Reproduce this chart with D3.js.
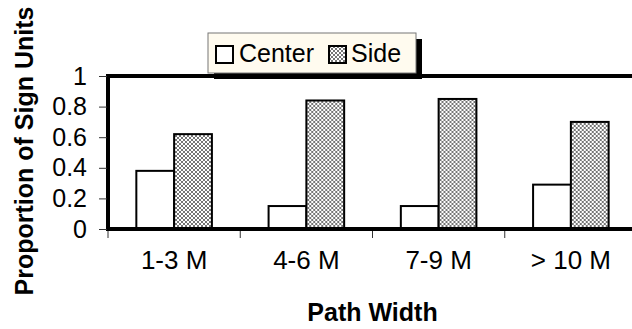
<!DOCTYPE html>
<html>
<head>
<meta charset="utf-8">
<script src="https://cdn.jsdelivr.net/npm/d3@7"></script>
<style>
  html, body { margin: 0; padding: 0; background: #fff; }
  svg { display: block; font-family: Arial, "Liberation Sans", sans-serif; }
</style>
</head>
<body>
<svg id="chart" width="632" height="329"></svg>
<script>
// Proportion of sign units by path width
const categories = ["1-3 M", "4-6 M", "7-9 M", "> 10 M"];
const seriesNames = ["Center", "Side"];
const centerValues = [0.38, 0.15, 0.15, 0.29];
const sideValues = [0.62, 0.84, 0.85, 0.70];
const yTicks = [0, 0.2, 0.4, 0.6, 0.8, 1];
const yTickLabels = ["0", "0.2", "0.4", "0.6", "0.8", "1"];

const svg = d3.select("#chart");
const plot = { left: 108, right: 637, top: 76, bottom: 229 };
const FONT = "Arial, 'Liberation Sans', sans-serif";

const defs = svg.append("defs");
const pat = defs.append("pattern")
  .attr("id", "hatch")
  .attr("patternUnits", "userSpaceOnUse")
  .attr("width", 4).attr("height", 4);
pat.append("rect").attr("width", 4).attr("height", 4).attr("fill", "#fff");
pat.append("path")
  .attr("d", "M0,0 L4,4 M4,0 L0,4")
  .attr("stroke", "#666").attr("stroke-width", 0.9);

const fills = { Center: "#fff", Side: "url(#hatch)" };

const x = d3.scaleBand().domain(categories).range([plot.left, plot.right]).paddingInner(0).paddingOuter(0);
const xs = d3.scaleBand().domain(seriesNames).range([0, x.bandwidth()]).paddingInner(0).paddingOuter(0.75);
const y = d3.scaleLinear().domain([0, 1]).range([plot.bottom, plot.top]);

const rows = categories.map((c, i) => ({ cat: c, Center: centerValues[i], Side: sideValues[i] }));

// bars
const groups = svg.append("g").selectAll("g").data(rows).join("g")
  .attr("transform", d => `translate(${x(d.cat)},0)`);
groups.selectAll("rect").data(d => seriesNames.map(s => ({ s, v: d[s] }))).join("rect")
  .attr("x", d => xs(d.s))
  .attr("width", xs.bandwidth())
  .attr("y", d => y(d.v))
  .attr("height", d => y(0) - y(d.v))
  .attr("fill", d => fills[d.s])
  .attr("stroke", "#000")
  .attr("stroke-width", 2);

// plot frame
svg.append("rect")
  .attr("x", plot.left).attr("y", plot.top)
  .attr("width", plot.right - plot.left).attr("height", plot.bottom - plot.top)
  .attr("fill", "none").attr("stroke", "#000").attr("stroke-width", 4);

// y axis
const yAxis = d3.axisLeft(y).tickValues(yTicks).tickSize(8).tickPadding(12)
  .tickFormat((d, i) => yTickLabels[i]);
const gy = svg.append("g").attr("transform", `translate(${plot.left - 1},0)`).call(yAxis);
gy.select(".domain").remove();
gy.selectAll(".tick line").attr("stroke", "#333").attr("stroke-width", 1);
gy.selectAll(".tick text").attr("font-size", 25).attr("fill", "#000").attr("font-family", FONT);

// x axis
const xAxis = d3.axisBottom(x).tickSize(0).tickPadding(22);
const gx = svg.append("g").attr("transform", `translate(0,${plot.bottom})`).call(xAxis);
gx.select(".domain").remove();
gx.selectAll(".tick line").remove();
gx.selectAll(".tick text").attr("font-size", 26).attr("fill", "#000").attr("font-family", FONT);
// category boundary ticks
svg.append("g").selectAll("line").data(categories).join("line")
  .attr("x1", d => x(d)).attr("x2", d => x(d))
  .attr("y1", plot.bottom + 2).attr("y2", plot.bottom + 9)
  .attr("stroke", "#333").attr("stroke-width", 1);

// axis titles
svg.append("text")
  .attr("x", (plot.left + plot.right) / 2).attr("y", 321)
  .attr("text-anchor", "middle")
  .attr("font-size", 25).attr("font-weight", "bold")
  .text("Path Width");
svg.append("text")
  .attr("transform", "translate(33,151) rotate(-90)")
  .attr("text-anchor", "middle")
  .attr("font-size", 25).attr("font-weight", "bold")
  .text("Proportion of Sign Units");

// legend
const lg = svg.append("g").attr("transform", "translate(208,33)");
const lw = 208, lh = 40;
lg.append("rect").attr("x", 6).attr("y", 6).attr("width", lw).attr("height", lh).attr("fill", "#000");
lg.append("rect").attr("x", 0).attr("y", 0).attr("width", lw).attr("height", lh)
  .attr("fill", "#fffbef").attr("stroke", "#777").attr("stroke-width", 1);
const legendItems = [
  { s: "Center", sx: 8, tx: 31 },
  { s: "Side", sx: 121, tx: 143 }
];
legendItems.forEach(it => {
  lg.append("rect").attr("x", it.sx).attr("y", 13).attr("width", 17).attr("height", 17)
    .attr("fill", fills[it.s]).attr("stroke", "#000").attr("stroke-width", 2);
  lg.append("text").attr("x", it.tx).attr("y", 29)
    .attr("font-size", 25).text(it.s);
});
</script>
</body>
</html>
